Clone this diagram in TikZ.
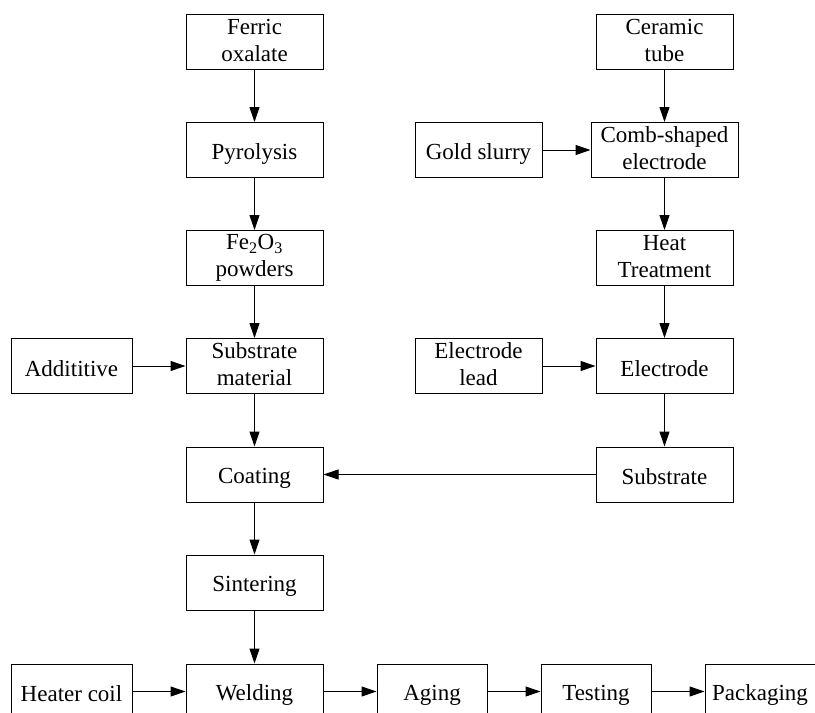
\documentclass[tikz,border=0pt]{standalone}
\usepackage{fontspec}
\setmainfont{Liberation Serif}
\usetikzlibrary{arrows.meta}
\newcommand\boxstrut{\rule[-3pt]{0pt}{26pt}}
\tikzset{every node/.style={font=\fontsize{23}{27}\selectfont},line cap=butt,line join=miter,
  proc/.style={draw,line width=1pt,inner sep=0pt,minimum height=55pt,minimum width=137pt,align=center,
    execute at begin node=\boxstrut,execute at end node=\boxstrut},
  flow/.style={line width=1pt,-{Triangle[length=15pt,width=10pt]}}}

\begin{document}
\begin{tikzpicture}[x=1pt,y=-1pt]
  \clip (0,0) rectangle (815,713);
  % left column: powder route down to the final assembly row
  \node[proc] (ferric) at (254.5,41.5) {Ferric\\oxalate};
  \node[proc] (pyro) at (254.5,150) {Pyrolysis};
  \node[proc] (feo) at (254.5,258) {Fe\textsubscript{2}O\textsubscript{3}\\powders};
  \node[proc] (submat) at (254.5,366) {Substrate\\material};
  \node[proc,minimum width=121pt] (additive) at (71.5,366) {Addititive};
  \node[proc] (coat) at (254.5,474.5) {Coating};
  \node[proc] (sinter) at (254.5,582.5) {Sintering};

  \node[proc] (weld) at (254.5,691.5) {Welding};
  \node[proc,minimum width=121pt] (heater) at (71.5,691.5) {Heater coil};
  \node[proc,minimum width=110pt] (aging) at (432,691.5) {Aging};
  \node[proc,minimum width=110pt] (testing) at (596,691.5) {Testing};
  \node[proc,minimum width=110pt] (packing) at (760,691.5) {Packaging};

  % right column: electrode route
  \node[proc] (ceramic) at (664.5,41.5) {Ceramic\\tube};
  \node[proc,minimum width=147pt] (comb) at (664.5,150) {Comb-shaped\\electrode};
  \node[proc,minimum width=127pt] (gold) at (478.5,150) {Gold slurry};
  \node[proc] (heat) at (664.5,258) {Heat\\Treatment};
  \node[proc] (electrode) at (664.5,366) {Electrode};
  \node[proc,minimum width=127pt] (elead) at (478.5,366) {Electrode\\lead};
  \node[proc] (substrate) at (664.5,474.5) {Substrate};

  \draw[flow] (ferric) -- (pyro);
  \draw[flow] (pyro) -- (feo);
  \draw[flow] (feo) -- (submat);
  \draw[flow] (additive) -- (submat);
  \draw[flow] (submat) -- (coat);
  \draw[flow] (coat) -- (sinter);
  \draw[flow] (sinter) -- (weld);
  \draw[flow] (heater) -- (weld);
  \draw[flow] (weld) -- (aging);
  \draw[flow] (aging) -- (testing);
  \draw[flow] (testing) -- (packing);

  \draw[flow] (ceramic) -- (comb);
  \draw[flow] (gold) -- (comb);
  \draw[flow] (comb) -- (heat);
  \draw[flow] (heat) -- (electrode);
  \draw[flow] (elead) -- (electrode);
  \draw[flow] (electrode) -- (substrate);
  \draw[flow] (substrate) -- (coat);
\end{tikzpicture}
\end{document}
